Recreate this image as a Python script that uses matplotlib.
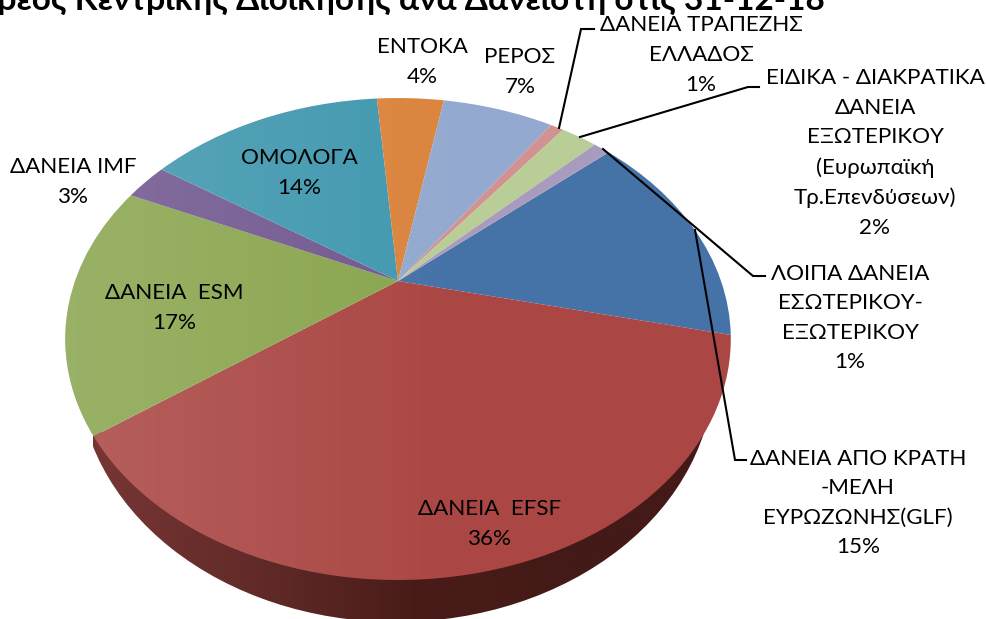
# torta 3D in prospettiva, disegnata in coordinate pixel
import numpy as np
import matplotlib
matplotlib.use('Agg')
import matplotlib.pyplot as plt
from matplotlib.colors import LinearSegmentedColormap
from matplotlib.patches import Ellipse, Polygon
from matplotlib.transforms import Transform

plt.rcParams['font.family'] = ['Lato', 'Noto Sans', 'DejaVu Sans']

title = 'Χρεος Κεντρικής Διοίκησης ανά Δανειστή στις 31-12-18'

names = ['ΔΑΝΕΙΑ ΑΠΟ ΚΡΑΤΗ\n-ΜΕΛΗ\nΕΥΡΩΖΩΝΗΣ(GLF)', 'ΔΑΝΕΙΑ  EFSF', 'ΔΑΝΕΙΑ  ESM', 'ΔΑΝΕΙΑ IMF',
         'ΟΜΟΛΟΓΑ', 'ΕΝΤΟΚΑ', 'ΡΕΡΟΣ', 'ΔΑΝΕΙΑ ΤΡΑΠΕΖΗΣ\nΕΛΛΑΔΟΣ',
         'ΕΙΔΙΚΑ - ΔΙΑΚΡΑΤΙΚΑ\nΔΑΝΕΙΑ\nΕΞΩΤΕΡΙΚΟΥ\n(Ευρωπαϊκή\nΤρ.Επενδύσεων)',
         'ΛΟΙΠΑ ΔΑΝΕΙΑ\nΕΣΩΤΕΡΙΚΟΥ-\nΕΞΩΤΕΡΙΚΟΥ']
values = [15.0, 36.4, 16.8, 2.6, 14.3, 4.1, 6.8, 0.8, 2.2, 1.0]
colors = ['#4572a7', '#aa4643', '#89a54e', '#71588f', '#4198af',
          '#db843d', '#93a9cf', '#d19392', '#b9cd96', '#a99bbd']

# posizione del centro delle etichette (pixel)
label_x = [858, 490, 174, 73, 299, 422, 520, 701, 875, 850]
label_y = [503, 524, 308, 182, 173, 62, 72, 55, 153, 318]

# linee guida delle etichette esterne
leader_x = [[559, 581, 594], [580, 748, 759], [603, 753, 765], [695, 735, 746]]
leader_y = [[128, 29, 29], [137, 87, 87], [149, 276, 276], [230, 460, 460]]

# prospettiva del disco: apice, semiassi, inclinazione
cx, cy = 398, 281
a, b, k = 227, 323, 0.2407


class Prospettiva(Transform):
    input_dims = output_dims = 2

    def transform_non_affine(self, xy):
        xy = np.asarray(xy)
        w = 1 + k * xy[:, 1]
        return np.column_stack([cx + b * xy[:, 0] / w, cy - a * xy[:, 1] / w])


fig = plt.figure(figsize=(9.86, 6.19), dpi=100)
ax = fig.add_axes([0, 0, 1, 1])

wedges, _ = ax.pie(values, colors=colors, startangle=41, counterclock=False, radius=1)
prosp = Prospettiva()
for w in wedges:
    w.set_transform(prosp + ax.transData)
    w.set_zorder(3)
    w.set_clip_on(False)
    w.set_linewidth(0)

# bordo del disco
t = np.linspace(0, 2 * np.pi, 400)
rim = prosp.transform(np.column_stack([np.cos(t), np.sin(t)]))

# fianco della torta, schiarito a sinistra
side = Ellipse((396, 370), 636, 504, transform=ax.transData, fc='none', ec='none')
ax.add_patch(side)
side_cmap = LinearSegmentedColormap.from_list('side', ['#763634', '#622b29', '#4a1c19', '#431a17', '#431a17'])
grad = np.linspace(0, 1, 256).reshape(1, -1)
im = ax.imshow(grad, cmap=side_cmap, extent=[93, 730, 625, 432], aspect='auto', zorder=1)
im.set_clip_path(side)

# sfumatura chiara da sinistra sul disco
overlay = np.zeros((1, 256, 4))
overlay[..., :3] = 1
overlay[0, :, 3] = np.clip(0.14 * (1 - np.linspace(0, 1, 256) / 0.62), 0, None)
disc = Polygon(rim, closed=True, transform=ax.transData, fc='none', ec='none')
ax.add_patch(disc)
im2 = ax.imshow(overlay, extent=[66, 731, 620, 90], aspect='auto', zorder=4)
im2.set_clip_path(disc)

for lx, ly in zip(leader_x, leader_y):
    ax.plot(lx, ly, color='black', lw=1.5, zorder=5, solid_joinstyle='miter')

for name, v, x, y in zip(names, values, label_x, label_y):
    ax.text(x, y, f'{name}\n{round(v)}%', ha='center', va='center', fontsize=16.1,
            linespacing=1.6, color='black', zorder=6)

ax.text(825, 9.5, title, ha='right', va='baseline', fontsize=24, fontweight='bold', color='black')

ax.set_aspect('auto')
ax.set_xlim(0, 986)
ax.set_ylim(619, 0)
ax.axis('off')
fig.savefig('out.png', dpi=100)
